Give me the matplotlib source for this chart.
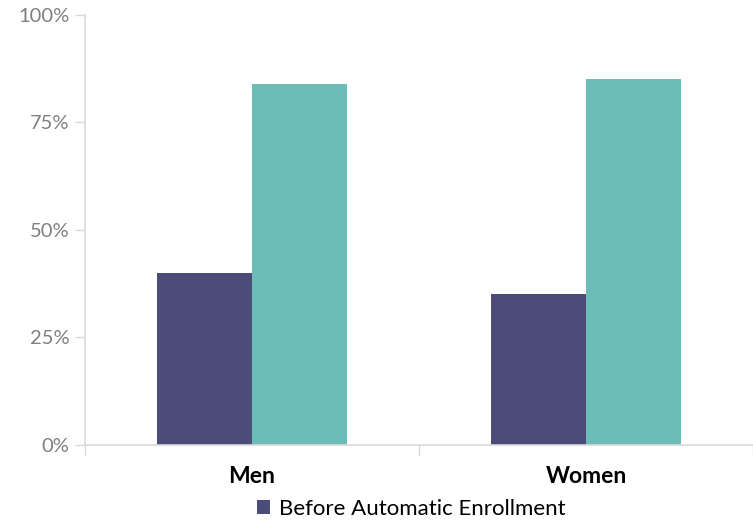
import matplotlib.pyplot as plt
import numpy as np

groups = ["Men", "Women"]
before = [40, 35]
after = [84, 85]
series_names = ["Before Automatic Enrollment", "After Automatic Enrollment"]
y_ticks = [0, 25, 50, 75, 100]
y_labels = ["0%", "25%", "50%", "75%", "100%"]

plt.rcParams['font.family'] = ['Lato', 'DejaVu Sans']

fig = plt.figure(figsize=(7.53, 5.22), dpi=100)
ax = fig.add_axes([0.1129, 0.1475, 0.8871, 0.8238])

x = np.arange(len(groups))
w = 0.285
grid_col = '#d9d9d9'

b1 = ax.bar(x - w / 2, before, width=w, color='#4b4c78', label=series_names[0])
b2 = ax.bar(x + w / 2, after, width=w, color='#6cbdb8')

ax.set_xlim(-0.5, 1.5)
ax.set_ylim(0, 100)
ax.set_yticks(y_ticks)
ax.set_yticklabels(y_labels, color='#7f7f7f', fontsize=14.5)
ax.tick_params(axis='y', length=7, width=1, color=grid_col, pad=4)

# category labels in the middle, tick marks on the category edges
ax.set_xticks(x)
ax.set_xticklabels(groups, fontsize=16.5, fontweight='bold')
ax.tick_params(axis='x', length=0, pad=15)
ax.set_xticks([-0.5, 0.5, 1.5], minor=True)
ax.tick_params(axis='x', which='minor', length=7, width=1, color=grid_col)

for s in ['top', 'right']:
    ax.spines[s].set_visible(False)
for s in ['left', 'bottom']:
    ax.spines[s].set_color(grid_col)
    ax.spines[s].set_linewidth(1.2)

fig.legend(handles=[b1], loc='center', bbox_to_anchor=(411 / 753, 1 - 509 / 522),
           frameon=False, fontsize=16, handlelength=0.6, handleheight=0.6,
           handletextpad=0.4)

fig.savefig('out.png', dpi=100)
